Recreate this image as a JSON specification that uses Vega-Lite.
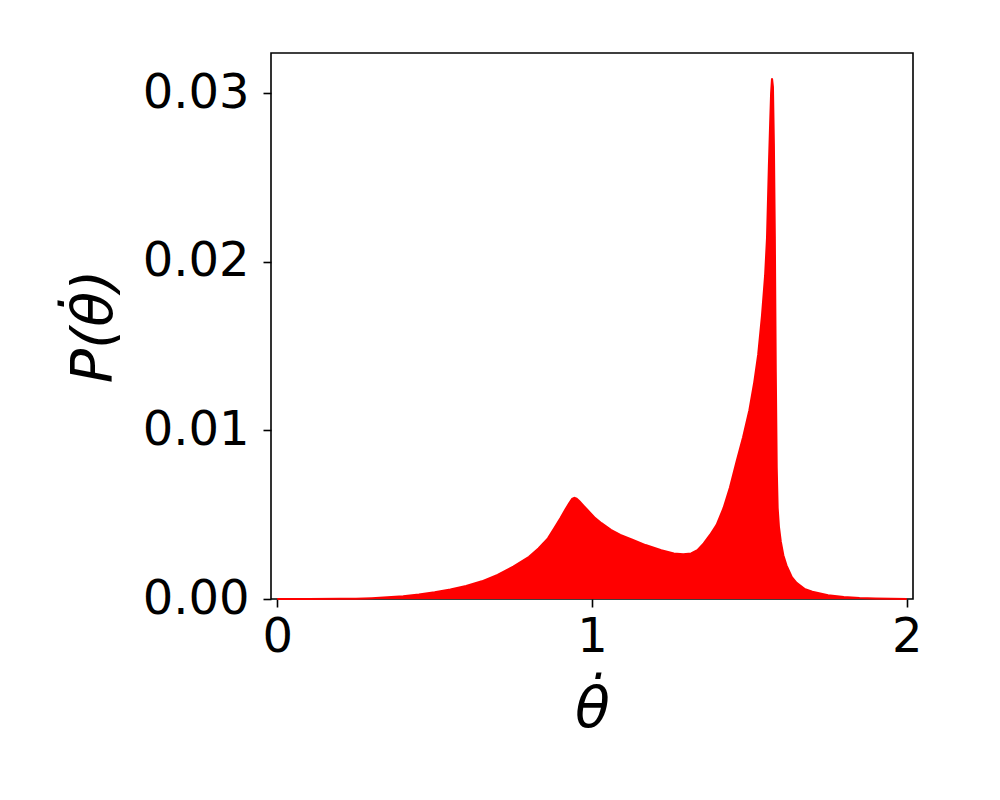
{
  "$schema": "https://vega.github.io/schema/vega-lite/v6.json",
  "width": 642,
  "height": 546,
  "autosize": "none",
  "padding": {"left": 271, "top": 53, "right": 87, "bottom": 201},
  "background": "white",
  "config": {
    "view": {"stroke": "black", "strokeWidth": 1.6},
    "font": "DejaVu Sans"
  },
  "data": {
    "values": [
      {"x": 0.0, "p": 0.0},
      {"x": 0.1, "p": 0.000001},
      {"x": 0.2, "p": 0.000008},
      {"x": 0.25, "p": 0.00002},
      {"x": 0.3, "p": 0.00005},
      {"x": 0.35, "p": 0.0001},
      {"x": 0.4, "p": 0.00017},
      {"x": 0.45, "p": 0.00027},
      {"x": 0.5, "p": 0.0004},
      {"x": 0.55, "p": 0.00056},
      {"x": 0.6, "p": 0.00078},
      {"x": 0.65, "p": 0.00105},
      {"x": 0.7, "p": 0.00143},
      {"x": 0.75, "p": 0.00192},
      {"x": 0.8, "p": 0.0025},
      {"x": 0.83, "p": 0.0030},
      {"x": 0.86, "p": 0.0036},
      {"x": 0.88, "p": 0.0042},
      {"x": 0.9, "p": 0.0048},
      {"x": 0.915, "p": 0.0053},
      {"x": 0.928, "p": 0.0057},
      {"x": 0.937, "p": 0.00595},
      {"x": 0.944, "p": 0.0060},
      {"x": 0.951, "p": 0.00595},
      {"x": 0.96, "p": 0.0058},
      {"x": 0.975, "p": 0.0055},
      {"x": 0.99, "p": 0.0052},
      {"x": 1.01, "p": 0.0048},
      {"x": 1.03, "p": 0.0045},
      {"x": 1.06, "p": 0.0041},
      {"x": 1.09, "p": 0.0038},
      {"x": 1.13, "p": 0.0035},
      {"x": 1.17, "p": 0.0032},
      {"x": 1.22, "p": 0.0029},
      {"x": 1.26, "p": 0.0027},
      {"x": 1.29, "p": 0.00265},
      {"x": 1.315, "p": 0.0027},
      {"x": 1.335, "p": 0.0029},
      {"x": 1.355, "p": 0.0033},
      {"x": 1.375, "p": 0.0038},
      {"x": 1.396, "p": 0.0044},
      {"x": 1.418, "p": 0.0054},
      {"x": 1.438, "p": 0.0066},
      {"x": 1.46, "p": 0.0082},
      {"x": 1.48, "p": 0.0096},
      {"x": 1.5, "p": 0.0112},
      {"x": 1.515, "p": 0.0128},
      {"x": 1.528, "p": 0.0145},
      {"x": 1.54, "p": 0.0168},
      {"x": 1.55, "p": 0.0192},
      {"x": 1.556, "p": 0.0214},
      {"x": 1.562, "p": 0.0257},
      {"x": 1.566, "p": 0.0282},
      {"x": 1.569, "p": 0.03},
      {"x": 1.572, "p": 0.0309},
      {"x": 1.575, "p": 0.0304},
      {"x": 1.578, "p": 0.027},
      {"x": 1.581, "p": 0.0215},
      {"x": 1.584, "p": 0.0135},
      {"x": 1.587, "p": 0.0078},
      {"x": 1.59, "p": 0.0054},
      {"x": 1.594, "p": 0.0043},
      {"x": 1.6, "p": 0.0034},
      {"x": 1.608, "p": 0.0026},
      {"x": 1.618, "p": 0.002},
      {"x": 1.635, "p": 0.0013},
      {"x": 1.65, "p": 0.00096},
      {"x": 1.675, "p": 0.0006},
      {"x": 1.7, "p": 0.00043},
      {"x": 1.75, "p": 0.00022},
      {"x": 1.8, "p": 0.00012},
      {"x": 1.85, "p": 0.00006},
      {"x": 1.9, "p": 0.00003},
      {"x": 1.95, "p": 0.00001},
      {"x": 2.0, "p": 0.0}
    ]
  },
  "mark": {"type": "area", "color": "#ff0000", "opacity": 1, "line": {"color": "#ff0000", "strokeWidth": 2}},
  "encoding": {
    "x": {
      "field": "x",
      "type": "quantitative",
      "scale": {"domain": [-0.02, 2.02], "nice": false, "zero": false},
      "axis": {
        "tickCount": 2,
        "format": "d",
        "title": "θ̇",
        "titleFont": "DejaVu Sans",
        "titleFontStyle": "italic",
        "titleFontWeight": "normal",
        "titleFontSize": 57,
        "titleColor": "black",
        "titlePadding": 20,
        "labelFont": "DejaVu Sans",
        "labelFontSize": 48,
        "labelColor": "black",
        "labelPadding": 6,
        "tickSize": 8,
        "tickWidth": 1.6,
        "tickColor": "black",
        "domain": false,
        "grid": false,
        "labelFlush": false,
        "labelOverlap": false
      }
    },
    "y": {
      "field": "p",
      "type": "quantitative",
      "scale": {"domain": [0, 0.0324], "nice": false},
      "axis": {
        "values": [0, 0.01, 0.02, 0.03],
        "format": ".2f",
        "title": "P(θ̇)",
        "titleFont": "DejaVu Sans",
        "titleFontStyle": "italic",
        "titleFontWeight": "normal",
        "titleFontSize": 57,
        "titleColor": "black",
        "titlePadding": 19,
        "labelFont": "DejaVu Sans",
        "labelFontSize": 48,
        "labelColor": "black",
        "labelPadding": 14,
        "tickSize": 8,
        "tickWidth": 1.6,
        "tickColor": "black",
        "domain": false,
        "grid": false,
        "labelFlush": false,
        "labelOverlap": false
      }
    }
  }
}
